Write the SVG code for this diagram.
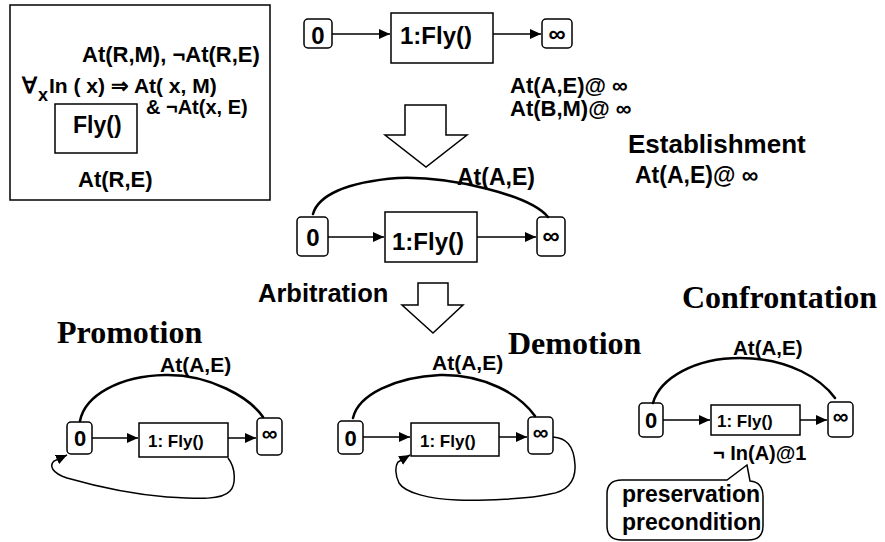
<svg xmlns="http://www.w3.org/2000/svg" width="885" height="542" viewBox="0 0 885 542">
<style>
  .frame{fill:#fff;stroke:#000;stroke-width:1.5}
  .nd{fill:#fff;stroke:#000;stroke-width:1.5}
  .t{font-family:"Liberation Sans",Arial,sans-serif;font-weight:bold;fill:#000}
  .h{font-family:"Liberation Serif","Times New Roman",serif;font-weight:bold;fill:#000;font-size:32px}
  .ar{fill:none;stroke:#000;stroke-width:1.5}
  .cv{fill:none;stroke:#000;stroke-width:2.5;stroke-linecap:round}
  .lp{fill:none;stroke:#000;stroke-width:1.5}
  .big{fill:#fff;stroke:#000;stroke-width:1.5}
</style>
<defs>
  <marker id="ah" markerUnits="userSpaceOnUse" markerWidth="12" markerHeight="10" refX="11" refY="5" orient="auto">
    <path d="M0,0 L11,5 L0,10 z" fill="#000"/>
  </marker>
</defs>
<rect width="885" height="542" fill="#fff"/>

<!-- schema box -->
<g id="schema">
  <rect class="frame" x="10" y="5" width="260" height="195"/>
  <text class="t" x="82" y="62" font-size="22">At(R,M), ¬At(R,E)</text>
  <text class="t" x="22" y="93" font-size="22">∀</text>
  <text class="t" x="38" y="101" font-size="18">x</text>
  <text class="t" x="49" y="93" font-size="21">In ( x) ⇒ At( x, M)</text>
  <text class="t" x="146" y="114" font-size="20">&amp; ¬At(x, E)</text>
  <rect class="nd" x="55" y="104" width="82" height="49"/>
  <text class="t" x="73" y="133" font-size="23">Fly()</text>
  <text class="t" x="78" y="187" font-size="22">At(R,E)</text>
</g>

<!-- top plan -->
<g id="top-start">
  <rect class="nd" x="304" y="19" width="28" height="29" rx="4"/>
  <text class="t" x="318" y="44" font-size="24" text-anchor="middle">0</text>
</g>
<g id="top-fly">
  <rect class="nd" x="391" y="13" width="102" height="50"/>
  <text class="t" x="400" y="44" font-size="24">1:Fly()</text>
</g>
<g id="top-end">
  <rect class="nd" x="542" y="19" width="30" height="29" rx="4"/>
  <text class="t" x="557" y="42" font-size="24" text-anchor="middle">∞</text>
</g>
<g id="goals">
  <text class="t" x="510" y="93" font-size="22">At(A,E)@ ∞</text>
  <text class="t" x="510" y="116" font-size="22">At(B,M)@ ∞</text>
</g>

<g id="step1">
  <polygon class="big" points="405,105 446,105 446,135 467,135 426,167 385,135 405,135"/>
</g>
<g id="establishment">
  <text class="t" x="628" y="153" font-size="26">Establishment</text>
  <text class="t" x="635" y="183" font-size="23">At(A,E)@ ∞</text>
</g>

<!-- middle plan -->
<g id="mid-start">
  <rect class="nd" x="297" y="217" width="31" height="39" rx="4"/>
  <text class="t" x="313" y="246" font-size="24" text-anchor="middle">0</text>
</g>
<g id="mid-fly">
  <rect class="nd" x="385" y="212" width="92" height="50"/>
  <text class="t" x="392" y="250" font-size="24">1:Fly()</text>
</g>
<g id="mid-end">
  <rect class="nd" x="537" y="217" width="28" height="39" rx="4"/>
  <text class="t" x="551" y="244" font-size="24" text-anchor="middle">∞</text>
</g>
<text class="t" x="457" y="185" font-size="23">At(A,E)</text>

<g id="step2">
  <text class="t" x="258" y="302" font-size="25.5">Arbitration</text>
  <polygon class="big" points="418,283 448,283 448,305 463,305 433,333 402,305 418,305"/>
</g>

<!-- promotion -->
<g id="promotion">
  <text class="h" x="57" y="343">Promotion</text>
  <text class="t" x="160" y="372" font-size="21">At(A,E)</text>
</g>
<g id="p-start">
  <rect class="nd" x="67" y="422" width="25" height="32" rx="4"/>
  <text class="t" x="80" y="446" font-size="22" text-anchor="middle">0</text>
</g>
<g id="p-fly">
  <rect class="nd" x="139" y="423" width="89" height="34"/>
  <text class="t" x="148" y="447" font-size="17">1: Fly()</text>
</g>
<g id="p-end">
  <rect class="nd" x="257" y="418" width="25" height="37" rx="4"/>
  <text class="t" x="269.5" y="441" font-size="22" text-anchor="middle">∞</text>
</g>

<!-- demotion -->
<g id="demotion">
  <text class="h" x="508" y="354">Demotion</text>
  <text class="t" x="432" y="370" font-size="21">At(A,E)</text>
</g>
<g id="d-start">
  <rect class="nd" x="338" y="421" width="25" height="33" rx="4"/>
  <text class="t" x="350.5" y="446" font-size="22" text-anchor="middle">0</text>
</g>
<g id="d-fly">
  <rect class="nd" x="411" y="423" width="88" height="33"/>
  <text class="t" x="420" y="447" font-size="17">1: Fly()</text>
</g>
<g id="d-end">
  <rect class="nd" x="528" y="417" width="25" height="37" rx="4"/>
  <text class="t" x="540.5" y="440" font-size="22" text-anchor="middle">∞</text>
</g>

<!-- confrontation -->
<g id="confrontation">
  <text class="h" x="682" y="308">Confrontation</text>
  <text class="t" x="733" y="355" font-size="20.5">At(A,E)</text>
  <text class="t" x="713" y="460" font-size="20">¬ In(A)@1</text>
</g>
<g id="c-start">
  <rect class="nd" x="639" y="403" width="24" height="34" rx="4"/>
  <text class="t" x="651" y="428" font-size="22" text-anchor="middle">0</text>
</g>
<g id="c-fly">
  <rect class="nd" x="711" y="405" width="89" height="30"/>
  <text class="t" x="717" y="427" font-size="17">1: Fly()</text>
</g>
<g id="c-end">
  <rect class="nd" x="828" y="402" width="25" height="35" rx="4"/>
  <text class="t" x="840.5" y="424" font-size="22" text-anchor="middle">∞</text>
</g>
<g id="callout">
  <path class="nd" d="M622,480 L727,480 L747,465 L750,481 Q763,482 763,497 L763,526 Q763,540 748,540 L622,540 Q607,540 607,526 L607,494 Q607,480 622,480 Z"/>
  <text class="t" x="622" y="502" font-size="23">preservation</text>
  <text class="t" x="622" y="530" font-size="23">precondition</text>
</g>

<!-- connectors -->
<g id="connectors">
  <line class="ar" x1="332" y1="34" x2="390" y2="34" marker-end="url(#ah)"/>
  <line class="ar" x1="493" y1="34" x2="541" y2="34" marker-end="url(#ah)"/>

  <line class="ar" x1="328" y1="237" x2="384" y2="237" marker-end="url(#ah)"/>
  <line class="ar" x1="477" y1="237" x2="536" y2="237" marker-end="url(#ah)"/>
  <path class="cv" d="M313,214 C318,196 345,182 398,178 C 450,176 530,195 548,217"/>

  <line class="ar" x1="92" y1="438" x2="138" y2="438" marker-end="url(#ah)"/>
  <line class="ar" x1="228" y1="438" x2="256" y2="438" marker-end="url(#ah)"/>
  <path class="cv" d="M80,421 C85,395 120,376 165,375 C210,374 250,398 263,417"/>
  <path class="lp" d="M228,458 C236,468 236,485 230,491 C222,500 200,499 167,497 C130,494 95,486 67,478 C52,473 49,466 54,461 L67,455" marker-end="url(#ah)"/>

  <line class="ar" x1="363" y1="437" x2="410" y2="437" marker-end="url(#ah)"/>
  <line class="ar" x1="499" y1="437" x2="527" y2="437" marker-end="url(#ah)"/>
  <path class="cv" d="M353,418 C358,395 395,377 440,375 C485,374 520,395 535,416"/>
  <path class="lp" d="M553,437 C565,438 574,444 575,465 C576,483 565,492 550,494 C530,499 480,501 457,500 C430,499 405,493 399,483 C395,475 395,466 398,462 L410,455" marker-end="url(#ah)"/>

  <line class="ar" x1="663" y1="420" x2="710" y2="420" marker-end="url(#ah)"/>
  <line class="ar" x1="800" y1="420" x2="827" y2="420" marker-end="url(#ah)"/>
  <path class="cv" d="M653,403 C660,378 695,358 740,358 C790,358 822,380 835,398"/>
</g>
</svg>
